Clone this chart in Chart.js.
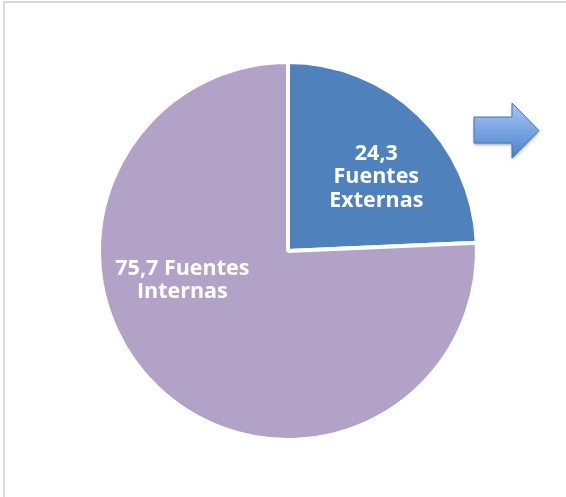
<!DOCTYPE html>
<html>
<head>
<meta charset="utf-8">
<script src="https://cdn.jsdelivr.net/npm/chart.js@4.4.1/dist/chart.umd.min.js"></script>
<style>
  html, body { margin: 0; padding: 0; background: #fff; overflow: hidden; }
  #wrap { position: relative; width: 566px; height: 497px; }
  #frame { position: absolute; left: 3px; top: 1px; width: 600px; height: 600px;
           border: 2px solid #d9d9d9; box-sizing: border-box; }
  #pieChart { position: absolute; left: 0; top: 0; }
</style>
</head>
<body>
<div id="wrap">
  <div id="frame"></div>
  <canvas id="pieChart" width="566" height="497"></canvas>
</div>
<script>
  // datos del grafico
  var categorias = ['Fuentes Externas', 'Fuentes Internas'];
  var valores = [24.3, 75.7];
  var etiquetas = [
    ['24,3', 'Fuentes', 'Externas'],
    ['75,7 Fuentes', 'Internas']
  ];
  var colores = ['#4f81bd', '#b2a2c7'];

  // texto dentro de cada porcion
  var labelPlugin = {
    id: 'sliceLabels',
    afterDatasetsDraw: function(chart, args, opts){
      var ctx = chart.ctx;
      var meta = chart.getDatasetMeta(0);
      ctx.save();
      ctx.fillStyle = '#ffffff';
      ctx.font = 'bold 21.5px "Open Sans"';
      ctx.textAlign = 'center';
      ctx.textBaseline = 'middle';
      meta.data.forEach(function(arc, i){
        var p = opts.placements[i];
        var a = (p.angle - 90) * Math.PI / 180;
        var r = arc.outerRadius * p.r;
        var cx = arc.x + Math.cos(a) * r;
        var cy = arc.y + Math.sin(a) * r;
        var lines = etiquetas[i];
        var lh = 23.5;
        var y0 = cy - (lines.length - 1) * lh / 2;
        for (var k = 0; k < lines.length; k++) {
          ctx.fillText(lines[k], cx, y0 + k * lh);
        }
      });
      ctx.restore();
    }
  };

  // flecha azul decorativa
  var arrowPlugin = {
    id: 'arrow',
    afterDraw: function(chart){
      var ctx = chart.ctx;
      ctx.save();
      ctx.beginPath();
      ctx.moveTo(474, 117);
      ctx.lineTo(512, 117);
      ctx.lineTo(512, 103);
      ctx.lineTo(539, 130.5);
      ctx.lineTo(512, 158);
      ctx.lineTo(512, 143);
      ctx.lineTo(474, 143);
      ctx.closePath();
      var g = ctx.createLinearGradient(0, 103, 0, 158);
      g.addColorStop(0, '#a6c5f2');
      g.addColorStop(0.5, '#7aa5e3');
      g.addColorStop(1, '#4a80cc');
      ctx.shadowColor = 'rgba(0,0,0,0.35)';
      ctx.shadowBlur = 3;
      ctx.shadowOffsetY = 2;
      ctx.fillStyle = g;
      ctx.fill();
      ctx.shadowColor = 'transparent';
      ctx.strokeStyle = '#4276b8';
      ctx.lineWidth = 1;
      ctx.stroke();
      ctx.restore();
    }
  };

  var ctx = document.getElementById('pieChart').getContext('2d');

  var options = {
    responsive : false,
    maintainAspectRatio : false,
    animation : false,
    layout : {
      padding : { left : 97, right : 87, top : 60, bottom : 55 }
    },
    plugins : {
      legend : { display : false },
      tooltip : { enabled : false },
      sliceLabels : {
        placements : [ { angle : 50, r : 0.61 }, { angle : 254.5, r : 0.58 } ]
      }
    }
  };

  var MyChart = new Chart(ctx, {
    type : 'pie',
    data : {
      labels : categorias,
      datasets : [ {
        data : valores,
        backgroundColor : colores,
        borderColor : '#ffffff',
        borderWidth : 4
      } ]
    },
    options : options,
    plugins : [ labelPlugin, arrowPlugin ]
  });
</script>
</body>
</html>
